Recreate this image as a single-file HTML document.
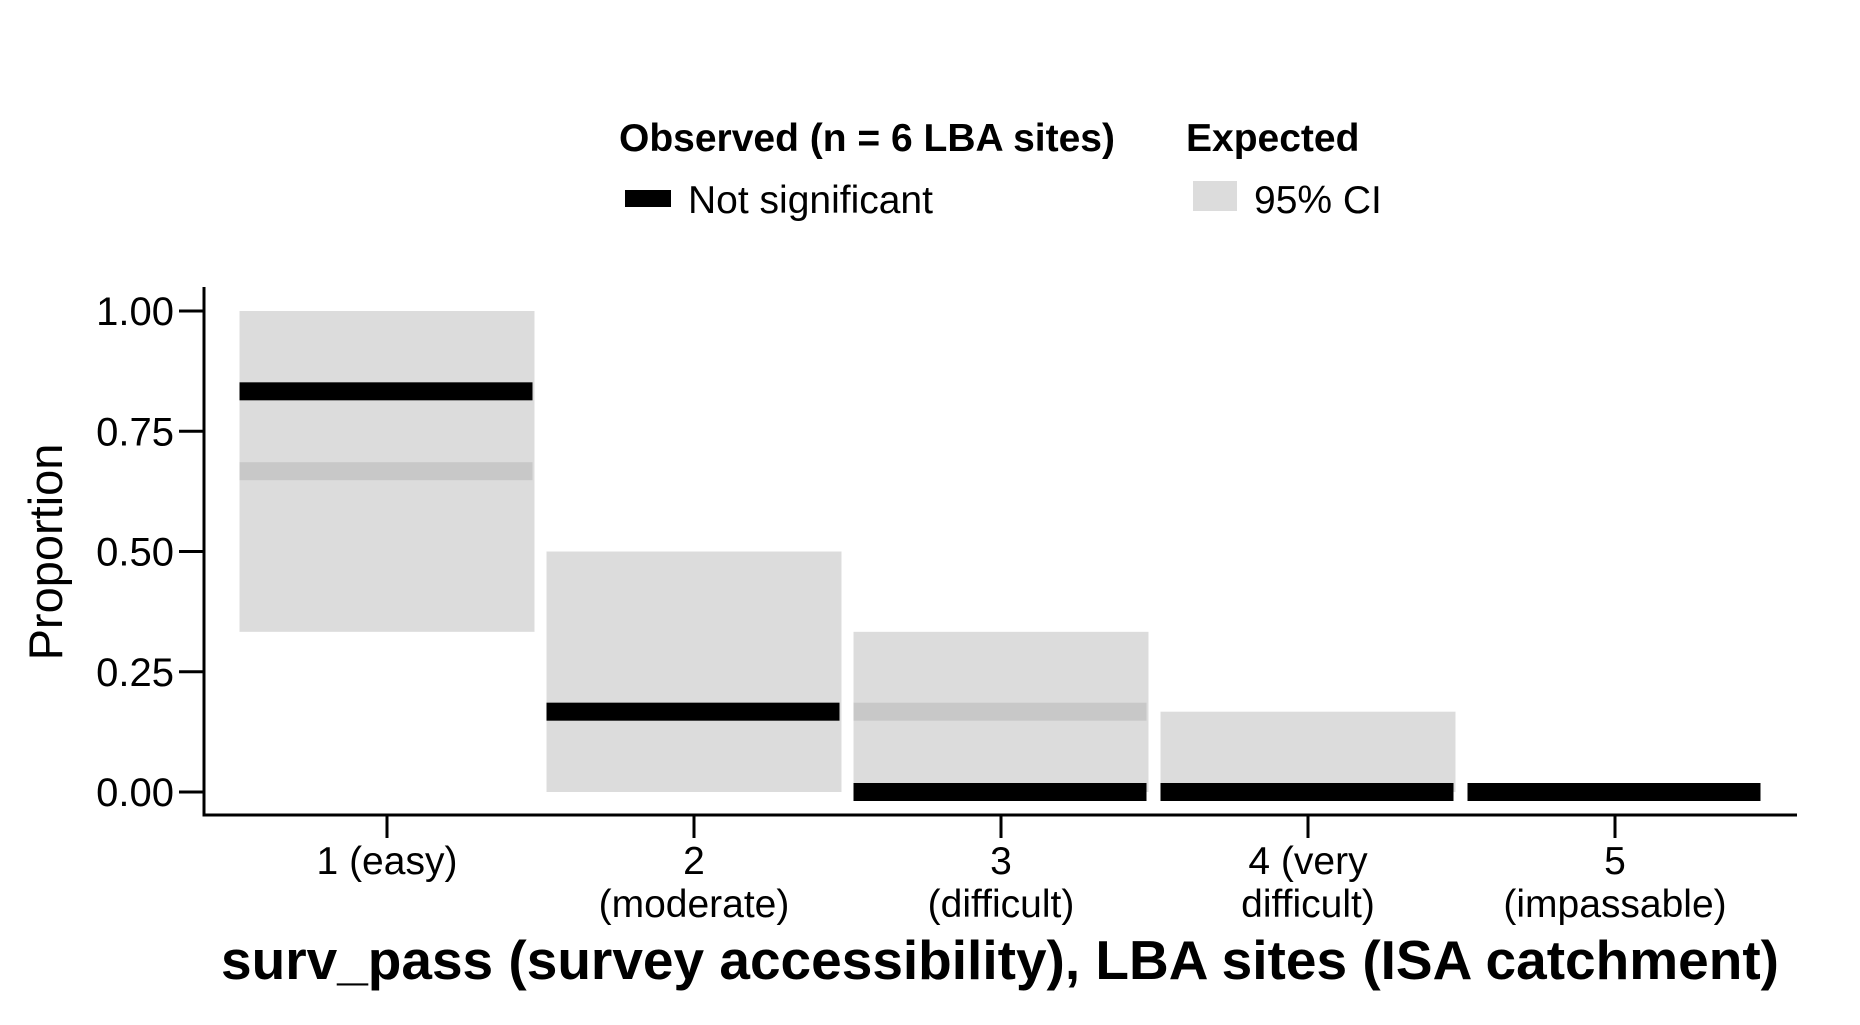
<!DOCTYPE html>
<html><head><meta charset="utf-8"><style>
body{margin:0;background:#fff}
svg text{font-family:"Liberation Sans",Arial,sans-serif;fill:#000}
</style></head><body>
<svg id="chart" width="1860" height="1020" xmlns="http://www.w3.org/2000/svg">
<g id="legend">
<text x="619" y="151" font-size="39" font-weight="bold">Observed (n = 6 LBA sites)</text>
<rect x="625" y="190" width="46" height="17" fill="#000"/>
<text x="688" y="213" font-size="39">Not significant</text>
<text x="1186" y="151" font-size="39" font-weight="bold">Expected</text>
<rect x="1193" y="181" width="44" height="30" fill="#dcdcdc"/>
<text x="1254" y="213" font-size="39">95% CI</text>
</g>
<g id="plot"></g>
<text transform="translate(62,552) rotate(-90)" text-anchor="middle" font-size="47">Proportion</text>
<text x="1000" y="979" text-anchor="middle" font-size="55" font-weight="bold">surv_pass (survey accessibility), LBA sites (ISA catchment)</text>
</svg>
<script>
const categories=[["1 (easy)"],["2","(moderate)"],["3","(difficult)"],["4 (very","difficult)"],["5","(impassable)"]];
const observed=[0.833,0.167,0,0,0];
const expected=[0.667,0.167,0.167,0,0];
const ciLow=[0.333,0,0,0,0];
const ciHigh=[1,0.5,0.333,0.167,0];
const yTicks=[0,0.25,0.5,0.75,1];
const yTickLabels=["0.00","0.25","0.50","0.75","1.00"];
const NS="http://www.w3.org/2000/svg";
const g=document.getElementById('plot');
const y=v=>792-v*481;
const x=i=>387+i*307;
function mk(t,a){const e=document.createElementNS(NS,t);for(const k in a)e.setAttribute(k,a[k]);g.appendChild(e);return e;}
categories.forEach((c,i)=>{
 if(ciHigh[i]>ciLow[i]){const r=mk('rect',{x:x(i)-147.5,y:y(ciHigh[i]),width:295,height:y(ciLow[i])-y(ciHigh[i]),fill:'#dcdcdc'});
 
 }
 const m=mk('rect',{x:x(i)-147.5,y:y(expected[i])-9,width:293,height:18,fill:'#c8c8c8'});
 
 
});
categories.forEach((c,i)=>{
 const b=mk('rect',{x:x(i)-147.5,y:y(observed[i])-9,width:293,height:18,fill:'#000'});
 
 
 const t=mk('line',{x1:x(i),x2:x(i),y1:815,y2:838,stroke:'#000','stroke-width':3});
 
 
 c.forEach((s,j)=>{const tx=mk('text',{x:x(i),y:874+j*43,'text-anchor':'middle','font-size':39});tx.textContent=s;
 
 });
});
yTicks.forEach((v,i)=>{
 const t=mk('line',{x1:179,x2:204,y1:y(v),y2:y(v),stroke:'#000','stroke-width':3});
 
 
 const tx=mk('text',{x:174,y:y(v)+14,'text-anchor':'end','font-size':40});tx.textContent=yTickLabels[i];
 
 
});
const ya=mk('line',{x1:204,x2:204,y1:287,y2:816.5,stroke:'#000','stroke-width':3});


const xa=mk('line',{x1:202.5,x2:1797,y1:815,y2:815,stroke:'#000','stroke-width':3});


</script>
</body></html>
